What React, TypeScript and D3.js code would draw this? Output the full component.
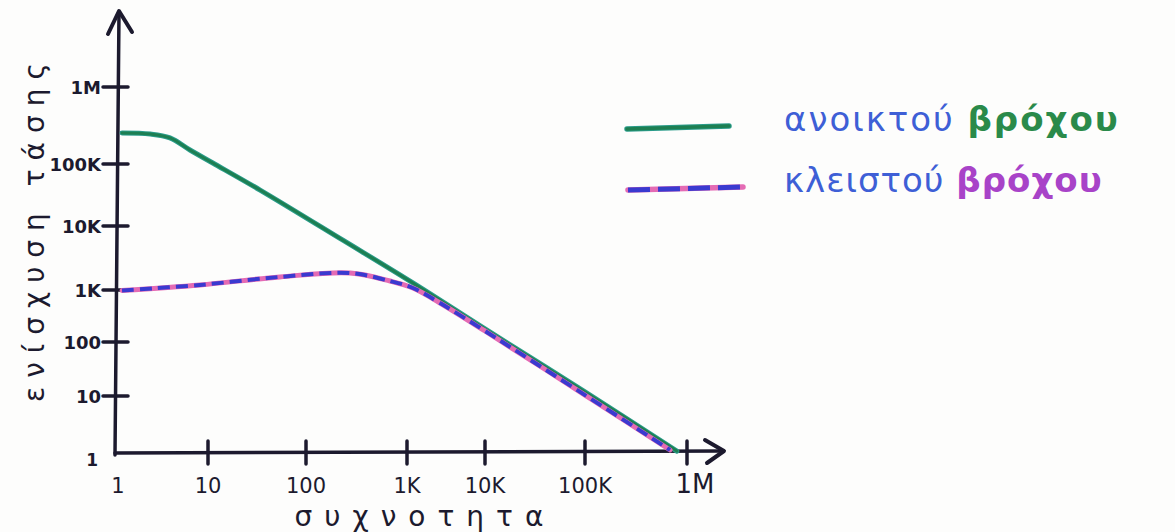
import React from "react";
import * as d3 from "d3";

// hand-drawn axes: decade ticks are unevenly spaced, so use polylinear log scales
const xTickValues = [1, 10, 100, 1000, 10000, 100000, 1000000];
const xTickLabels = ["1", "10", "100", "1K", "10K", "100K", "1M"];
const yTickValues = [1, 10, 100, 1000, 10000, 100000, 1000000];
const yTickLabels = ["1", "10", "100", "1K", "10K", "100K", "1M"];

// open loop gain (freq, gain)
const openFreq = [1.19, 2.4, 3.9, 6.4, 11.2, 34, 232, 1190, 10000, 100000, 795000];
const openGain = [253000, 245000, 218000, 152000, 103000, 38000, 6000, 1290, 178, 11.9, 1.08];

// closed loop gain
const closedFreq = [1.19, 8.2, 54, 273, 680, 1190, 2650, 10000, 100000, 682000];
const closedGain = [980, 1200, 1600, 1840, 1380, 1075, 562, 163, 10.4, 1.13];

const legendLabels = ["ανοικτού ", "κλειστού "];
const legendWords = ["βρόχου", "βρόχου"];

const xTitle = "συχνοτητα";
const yTitle = "ενίσχυση τάσης";

export default function App() {
  const W = 1175, H = 532;
  const x = d3.scaleLog().domain(xTickValues).range([115, 208, 306, 407, 485, 585, 687]);
  const y = d3.scaleLog().domain(yTickValues).range([453, 396, 342, 290, 226, 164, 87]);

  const line = d3
    .line<number>()
    .x((d) => d[0])
    .y((d) => d[1])
    .curve(d3.curveCatmullRom.alpha(0.5));

  const openPts = openFreq.map((f, i) => [x(f), y(openGain[i])] as any);
  const closedPts = closedFreq.map((f, i) => [x(f), y(closedGain[i])] as any);

  const ink = "#1c1a2e";
  const font = "'DejaVu Sans', 'Noto Sans', sans-serif";
  const green = "#1d7f52";
  const blue = "#3a3ad0";
  const pink = "#e46bb4";
  const textBlue = "#3e5fd6";

  return (
    <svg
      width={W}
      height={H}
      style={{ position: "absolute", left: 0, top: 0, background: "#fdfdfc" }}
    >
      {/* y axis */}
      <line x1={115} y1={455} x2={119} y2={12} stroke={ink} strokeWidth={3.5} strokeLinecap="round" />
      <path d="M108,34 L119,11 L132,32" fill="none" stroke={ink} strokeWidth={4} strokeLinecap="round" strokeLinejoin="round" />
      {/* x axis */}
      <line x1={115} y1={453} x2={722} y2={451} stroke={ink} strokeWidth={3.5} strokeLinecap="round" />
      <path d="M705,440 L724,451 L707,463" fill="none" stroke={ink} strokeWidth={4} strokeLinecap="round" strokeLinejoin="round" />

      {/* y ticks */}
      {yTickValues.slice(1).map((v, i) => (
        <g key={"yt" + i}>
          <line x1={103} x2={128} y1={y(v)} y2={y(v)} stroke={ink} strokeWidth={3.5} strokeLinecap="round" />
          <text
            x={101}
            y={y(v) + 7}
            textAnchor="end"
            fontFamily={font}
            fontWeight="bold"
            fontSize={18}
            fill={ink}
          >
            {yTickLabels[i + 1]}
          </text>
        </g>
      ))}
      <text x={98} y={466} textAnchor="end" fontFamily={font} fontWeight="bold" fontSize={17} fill={ink}>
        {yTickLabels[0]}
      </text>

      {/* x ticks */}
      {xTickValues.slice(1).map((v, i) => (
        <line key={"xt" + i} x1={x(v)} x2={x(v)} y1={441} y2={464} stroke={ink} strokeWidth={3.5} strokeLinecap="round" />
      ))}
      {xTickValues.map((v, i) => (
        <text
          key={"xl" + i}
          x={x(v) + (i === 0 ? 3 : i === 6 ? 8 : 0)}
          y={493}
          textAnchor="middle"
          fontFamily={font}
          fontSize={i === 6 ? 26 : 21}
          fill={ink}
        >
          {xTickLabels[i]}
        </text>
      ))}

      {/* axis titles */}
      <text x={425} y={526} textAnchor="middle" fontFamily={font} fontSize={28} letterSpacing={12} fill={ink}>
        {xTitle}
      </text>
      <text
        transform="translate(44,228) rotate(-90)"
        textAnchor="middle"
        fontFamily={font}
        fontSize={28}
        letterSpacing={9}
        fill={ink}
      >
        {yTitle}
      </text>

      {/* curves */}
      <path d={line(openPts) || ""} fill="none" stroke="#2a9c8a" strokeWidth={5} strokeLinecap="round" />
      <path d={line(openPts) || ""} fill="none" stroke={green} strokeWidth={3} strokeLinecap="round" />
      <path d={line(closedPts) || ""} fill="none" stroke={pink} strokeWidth={5} strokeLinecap="round" />
      <path
        d={line(closedPts) || ""}
        fill="none"
        stroke={blue}
        strokeWidth={4}
        strokeDasharray="12 6"
        strokeLinecap="butt"
      />

      {/* legend */}
      <line x1={627} y1={129} x2={729} y2={126} stroke="#2a9c8a" strokeWidth={5.5} strokeLinecap="round" />
      <line x1={627} y1={129} x2={729} y2={126} stroke={green} strokeWidth={3.5} strokeLinecap="round" />
      <line x1={628} y1={190} x2={743} y2={187} stroke={pink} strokeWidth={5.5} strokeLinecap="round" />
      <line x1={628} y1={190} x2={743} y2={187} stroke={blue} strokeWidth={5} strokeDasharray="22 8" strokeLinecap="butt" />

      <text x={784} y={131} fontFamily={font} fontSize={34} letterSpacing={2} fill={textBlue}>
        {legendLabels[0]}
        <tspan fill="#2a8a4a" fontWeight="bold">{legendWords[0]}</tspan>
      </text>
      <text x={784} y={192} fontFamily={font} fontSize={34} letterSpacing={1} fill={textBlue}>
        {legendLabels[1]}
        <tspan fill="#a843c8" fontWeight="bold">{legendWords[1]}</tspan>
      </text>
    </svg>
  );
}
